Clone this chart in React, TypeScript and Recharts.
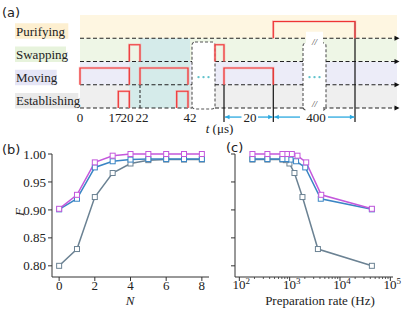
import React from "react";
import { ComposedChart, LineChart, Line, XAxis, YAxis, ReferenceArea, Scatter } from "recharts";

const SERIF = "'Liberation Serif', 'Times New Roman', serif";
const SANS = "'DejaVu Sans', 'Liberation Sans', sans-serif";

// ---------------- (a) timing diagram data ----------------
const rowNames = ["Establishing", "Moving", "Swapping", "Purifying"]; // level 0..3
const rowLevels = [0, 1, 2, 3];
const timeTickLabels = ["0", "17", "20", "22", "42"];
const timeTickPos = [0, 35, 47, 62, 110];
const pulseRows = [1, 0, 2, 1, 0, 2, 1, 3];
const pulseStart = [0, 38.3, 49.3, 60, 96.7, 135, 144, 193.3];
const pulseEnd = [49.3, 49.3, 60, 108, 108, 144, 193.3, 275];
const markerX = [144, 193.3, 275];
const markerTop = [1, 1.72, 3.72];
const durationLabels = ["20", "400"];
const durationStart = [144, 193.3];
const durationEnd = [193.3, 275];
const durationTextX = [170, 236];
const durationGap = [[161.5, 178], [220, 248]];
const breakStart = [112, 223];
const breakEnd = [135, 246];

// ---------------- (b), (c) data ----------------
const N = [0, 1, 2, 3, 4, 5, 6, 7, 8];
const F_magenta = [0.902, 0.927, 0.985, 0.997, 1.0, 1.0, 1.0, 1.0, 1.0];
const F_blue = [0.901, 0.92, 0.976, 0.987, 0.99, 0.991, 0.991, 0.991, 0.991];
const F_gray = [0.8, 0.83, 0.923, 0.966, 0.983, 0.989, 0.99, 0.99, 0.99];
const rate_magenta = [43000, 4240, 2130, 1430, 1105, 880, 718, 361, 182];
const rate_blue = [43000, 4150, 2040, 1340, 1040, 860, 718, 361, 182];
const rate_gray = [43000, 3640, 1795, 1244, 989, 839, 718, 361, 182];
const fTicks = [0.8, 0.85, 0.9, 0.95, 1.0];
const nTicks = [0, 2, 4, 6, 8];
const rateMajor = [100, 1000, 10000, 100000];
const rateMinor = [200, 300, 400, 500, 600, 700, 800, 900, 2000, 3000, 4000, 5000, 6000, 7000, 8000, 9000, 20000, 30000, 40000, 50000, 60000, 70000, 80000, 90000];

const C_MAG = "#c458dc";
const C_BLUE = "#3a85c4";
const C_GRAY = "#6b8293";

// ---------------- styles ----------------
const bandColors = ["#efefef", "#ececf8", "#eef6e6", "#fef6e1"];
const labelBg = ["#e9e9e9", "#e5e5f6", "#e7f3dc", "#fdefd0"];
const labelBgWidth = [63.3, 41.7, 51, 53.3];
const TEAL = "#d5ebea";
const RED = "#ef3434";
const HALO = "#f6a9a9";
const CYAN = "#2aa8e0";
const DOTC = "#62c3cc";
const PH = 0.72;

const noAnim = { isAnimationActive: false, dot: false, activeDot: false, legendType: "none" as const };

const dashedGaps: number[][][] = [
  [[breakStart[0], breakEnd[0]], [226, 243]],
  [[breakStart[0], breakEnd[0]], [breakStart[1], breakEnd[1]]],
  [[breakStart[0], breakEnd[0]], [breakStart[1], breakEnd[1]]],
  [[226, 243]],
];
function segmentsFor(L: number) {
  const out: number[][] = [];
  let s = 0;
  for (const [a, b] of dashedGaps[L]) {
    out.push([s, a]);
    s = b;
  }
  out.push([s, 316]);
  return out;
}

const dashedBox = (p: any) => (
  <rect x={p.x} y={p.y} width={p.width} height={p.height} rx={3} fill="#fff" stroke="#555" strokeWidth={1.1} strokeDasharray="3 2" />
);

const textShape = (anchor: string, size: number, italic = false, color = "#222") => (p: any) => (
  <text x={p.cx} y={p.cy} dy="0.35em" textAnchor={anchor} fontFamily={SERIF} fontSize={size} fontStyle={italic ? "italic" : "normal"} fill={color}>
    {p.payload.text}
  </text>
);

const tLabelShape = (p: any) => (
  <text x={p.cx} y={p.cy} dy="0.35em" textAnchor="middle" fontFamily={SERIF} fontSize={13} fill="#222">
    <tspan fontStyle="italic">t</tspan> (μs)
  </text>
);

const arrowShape = (color: string, len: number, half: number) => (p: any) => {
  const d = p.payload.dir;
  const { cx, cy } = p;
  return <polygon points={`${cx},${cy} ${cx - d * len},${cy - half} ${cx - d * len},${cy + half}`} fill={color} />;
};

const dotShape = (p: any) => <circle cx={p.cx} cy={p.cy} r={1.2} fill={DOTC} />;

function PanelA() {
  const rowLabelData = rowNames.map((n, i) => ({ x: -64, y: i + 0.31, text: n }));
  const tickData = timeTickLabels.map((t, i) => ({ x: timeTickPos[i], y: -0.39, text: t }));
  const durData = durationLabels.map((t, i) => ({ x: durationTextX[i], y: -0.39, text: t }));
  const breakTextData = [
    { x: (breakStart[1] + breakEnd[1]) / 2, y: 2.86, text: "//" },
    { x: (breakStart[1] + breakEnd[1]) / 2, y: 0.16, text: "//" },
  ];
  const dotsData: { x: number; y: number }[] = [];
  breakStart.forEach((s, i) => {
    const c = (s + breakEnd[i]) / 2;
    [-5, 0, 5].forEach((o) => dotsData.push({ x: c + o, y: 1.33 }));
  });
  const endArrows = rowLevels.map((L) => ({ x: 319.5, y: L, dir: 1 }));
  const cyanHeads: any[] = [];
  durationStart.forEach((s, i) => {
    cyanHeads.push({ x: s + 1, y: -0.39, dir: -1 });
    cyanHeads.push({ x: durationEnd[i] - 0.6, y: -0.39, dir: 1 });
  });
  return (
    <ComposedChart width={415} height={135} margin={{ top: 0, right: 0, bottom: 0, left: 0 }}>
      <XAxis type="number" dataKey="x" domain={[-80, 335]} allowDataOverflow hide />
      <YAxis type="number" dataKey="y" domain={[-1.161, 4.645]} allowDataOverflow hide />
      {rowLevels.map((L) => (
        <ReferenceArea key={"band" + L} x1={0} x2={317} y1={L} y2={L + 1} fill={bandColors[L]} fillOpacity={1} stroke="none" />
      ))}
      <ReferenceArea x1={60} x2={110} y1={0} y2={3} fill={TEAL} fillOpacity={1} stroke="none" />
      <ReferenceArea x1={49.3} x2={60} y1={0} y2={2} fill={TEAL} fillOpacity={1} stroke="none" />
      {rowLevels.map((L) => (
        <ReferenceArea key={"lbg" + L} x1={-65} x2={-65 + labelBgWidth[L]} y1={L - 0.02} y2={L + 0.64} fill={labelBg[L]} fillOpacity={1} stroke="none" />
      ))}
      <ReferenceArea x1={breakStart[0]} x2={breakEnd[0]} y1={-0.04} y2={2.84} shape={dashedBox} />
      <ReferenceArea x1={breakStart[1]} x2={breakEnd[1]} y1={-0.09} y2={2.8} shape={dashedBox} />
      <ReferenceArea x1={226} x2={243} y1={2.62} y2={3.28} fill="#fff" fillOpacity={1} stroke="none" />
      <ReferenceArea x1={226} x2={243} y1={-0.17} y2={0.38} fill="#fff" fillOpacity={1} stroke="none" />

      {rowLevels.map((L) =>
        segmentsFor(L).map(([a, b], k) => (
          <Line key={`dl${L}-${k}`} data={[{ x: a, y: L }, { x: b, y: L }]} dataKey="y" stroke="#222" strokeWidth={1.2} strokeDasharray="4 2.5" {...noAnim} />
        ))
      )}
      <Line data={[{ x: 60, y: 0 }, { x: 60, y: 1 }]} dataKey="y" stroke="#333" strokeWidth={1.1} strokeDasharray="3 2" {...noAnim} />
      {markerX.map((mx, i) => (
        <Line key={"mk" + i} data={[{ x: mx, y: -0.6 }, { x: mx, y: markerTop[i] }]} dataKey="y" stroke="#111" strokeWidth={1.2} {...noAnim} />
      ))}
      {pulseRows.map((L, i) => {
        const d = [
          { x: pulseStart[i], y: L },
          { x: pulseStart[i], y: L + PH },
          { x: pulseEnd[i], y: L + PH },
          { x: pulseEnd[i], y: L },
        ];
        return [
          <Line key={"ph" + i} data={d} dataKey="y" stroke={HALO} strokeWidth={2.6} strokeOpacity={0.6} {...noAnim} />,
          <Line key={"pc" + i} data={d} dataKey="y" stroke={RED} strokeWidth={1.2} {...noAnim} />,
        ];
      })}
      {durationStart.map((s, i) => [
        <Line key={"ca" + i} data={[{ x: s + 1, y: -0.39 }, { x: durationGap[i][0], y: -0.39 }]} dataKey="y" stroke={CYAN} strokeWidth={1.3} {...noAnim} />,
        <Line key={"cb" + i} data={[{ x: durationGap[i][1], y: -0.39 }, { x: durationEnd[i] - 0.6, y: -0.39 }]} dataKey="y" stroke={CYAN} strokeWidth={1.3} {...noAnim} />,
      ])}
      <Scatter data={cyanHeads} shape={arrowShape(CYAN, 4.5, 2.2)} isAnimationActive={false} legendType="none" />
      <Scatter data={endArrows} shape={arrowShape("#111", 5, 2.5)} isAnimationActive={false} legendType="none" />
      <Scatter data={dotsData} shape={dotShape} isAnimationActive={false} legendType="none" />
      <Scatter data={rowLabelData} shape={textShape("start", 13)} isAnimationActive={false} legendType="none" />
      <Scatter data={tickData} shape={textShape("middle", 13)} isAnimationActive={false} legendType="none" />
      <Scatter data={durData} shape={textShape("middle", 13)} isAnimationActive={false} legendType="none" />
      <Scatter data={breakTextData} shape={textShape("middle", 9, true, "#333")} isAnimationActive={false} legendType="none" />
      <Scatter data={[{ x: 139.5, y: -0.86 }]} shape={tLabelShape} isAnimationActive={false} legendType="none" />
    </ComposedChart>
  );
}

const squareDot = (color: string) => (p: any) => (
  <rect key={`sq-${p.index}`} x={p.cx - 2.5} y={p.cy - 2.5} width={5} height={5} fill="#fff" stroke={color} strokeWidth={1} />
);

const tickStyle = { fill: "#222", fontSize: 13, fontFamily: SERIF };
const series = [
  { F: F_gray, rate: rate_gray, color: C_GRAY },
  { F: F_blue, rate: rate_blue, color: C_BLUE },
  { F: F_magenta, rate: rate_magenta, color: C_MAG },
];

function PanelB() {
  return (
    <LineChart width={215} height={172} margin={{ top: 14, right: 6, bottom: 5, left: 0 }}>
      <XAxis type="number" dataKey="x" domain={[-0.4, 8.4]} ticks={nTicks} interval={0} height={30} tickSize={4} tickMargin={0}
        stroke="#333" tick={tickStyle} />
      <XAxis xAxisId="top" orientation="top" type="number" domain={[-0.4, 8.4]} height={0} tick={false} tickLine={false} stroke="#333" />
      <YAxis type="number" domain={[0.78, 1.0]} ticks={fTicks} interval={0} width={52} tickSize={4} tickMargin={2}
        tickFormatter={(v: number) => v.toFixed(2)} stroke="#333" tick={tickStyle} />
      <YAxis yAxisId="right" orientation="right" type="number" domain={[0.78, 1.0]} width={0} tick={false} tickLine={false} stroke="#333" />
      {series.map((s, k) => (
        <Line key={"b" + k} data={N.map((n, i) => ({ x: n, y: s.F[i] }))} dataKey="y" stroke={s.color} strokeWidth={1.5}
          dot={squareDot(s.color)} activeDot={false} isAnimationActive={false} legendType="none" />
      ))}
    </LineChart>
  );
}

const logTick = (p: any) => {
  const { x, y, payload } = p;
  const v = payload.value;
  const lg = Math.log10(v);
  const e = Math.round(lg);
  const major = Math.abs(lg - e) < 1e-6;
  return (
    <g>
      <line x1={x} x2={x} y1={y} y2={y + (major ? 4 : 2)} stroke="#333" strokeWidth={major ? 1 : 0.8} />
      {major && (
        <text x={x + 2} y={y + 12} textAnchor="middle" fontFamily={SERIF} fontSize={13} fill="#222">
          10<tspan dy={-5} fontSize={9}>{e}</tspan>
        </text>
      )}
    </g>
  );
};

function PanelC() {
  return (
    <LineChart width={200} height={172} margin={{ top: 14, right: 22, bottom: 5, left: 0 }}>
      <XAxis type="number" dataKey="x" scale="log" domain={[82, 113000]} allowDataOverflow ticks={[...rateMajor, ...rateMinor]} interval={0}
        height={30} tickSize={0} tickMargin={0} tickLine={false} stroke="#333" tick={logTick} />
      <XAxis xAxisId="top" orientation="top" type="number" scale="log" domain={[82, 113000]} allowDataOverflow height={0} tick={false} tickLine={false} stroke="#333" />
      <YAxis type="number" domain={[0.78, 1.0]} ticks={fTicks} interval={0} width={20} tickSize={4} stroke="#333" tick={() => <g />} />
      <YAxis yAxisId="right" orientation="right" type="number" domain={[0.78, 1.0]} width={0} tick={false} tickLine={false} stroke="#333" />
      {series.map((s, k) => (
        <Line key={"c" + k} data={s.rate.map((r, i) => ({ x: r, y: s.F[i] }))} dataKey="y" stroke={s.color} strokeWidth={1.5}
          dot={squareDot(s.color)} activeDot={false} isAnimationActive={false} legendType="none" />
      ))}
    </LineChart>
  );
}

export default function App() {
  return (
    <div style={{ position: "absolute", left: 0, top: 0, width: 415, height: 312, background: "#fff", overflow: "hidden" }}>
      <div style={{ position: "absolute", left: 0, top: 0 }}>
        <PanelA />
      </div>
      <div style={{ position: "absolute", left: 0, top: 140 }}>
        <PanelB />
      </div>
      <div style={{ position: "absolute", left: 215, top: 140 }}>
        <PanelC />
      </div>
      <svg width={415} height={312} style={{ position: "absolute", left: 0, top: 0, pointerEvents: "none" }}>
        <text x={2} y={17} fontFamily={SANS} fontSize={13} fill="#222">(a)</text>
        <text x={2} y={154} fontFamily={SANS} fontSize={13} fill="#222">(b)</text>
        <text x={226} y={152} fontFamily={SANS} fontSize={13} fill="#222">(c)</text>
        <text x={130} y={305} textAnchor="middle" fontFamily={SERIF} fontStyle="italic" fontSize={13} fill="#222">N</text>
        <text x={24} y={212} textAnchor="middle" fontFamily={SERIF} fontStyle="italic" fontSize={13} fill="#222" transform="rotate(-90 24 212)">F</text>
        <text x={320} y={305} textAnchor="middle" fontFamily={SERIF} fontSize={13} fill="#222">Preparation rate (Hz)</text>
      </svg>
    </div>
  );
}
